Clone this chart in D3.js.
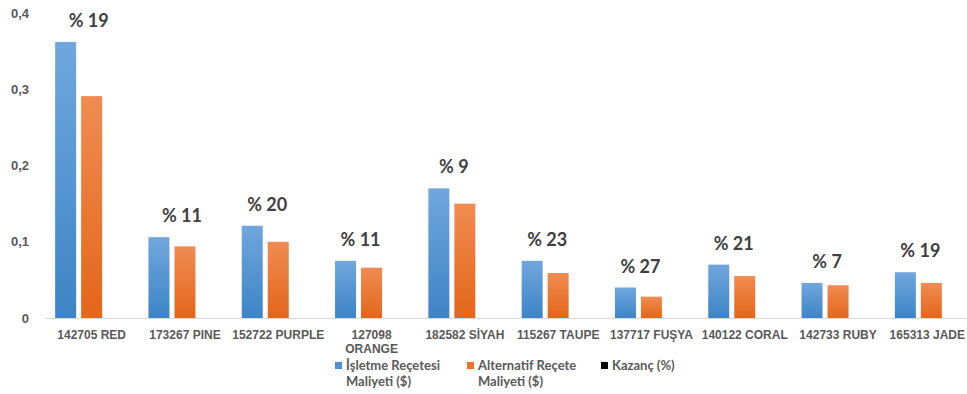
<!DOCTYPE html>
<html><head><meta charset="utf-8">
<script src="https://cdn.jsdelivr.net/npm/d3@7"></script>
<style>body{margin:0;background:#fff;}svg{display:block;font-family:Lato,"Open Sans",sans-serif;}</style>
</head><body><svg id="c" width="967" height="394"></svg>
<script>
const categories = ["142705 RED","173267 PINE","152722 PURPLE","127098 ORANGE","182582 SİYAH","115267 TAUPE","137717 FUŞYA","140122 CORAL","142733 RUBY","165313 JADE"];
const isletme = [0.362,0.106,0.121,0.075,0.170,0.075,0.040,0.070,0.046,0.060];
const alternatif = [0.291,0.094,0.100,0.066,0.150,0.059,0.028,0.055,0.043,0.046];
const kazanc = [19,11,20,11,9,23,27,21,7,19];
const yTicks = [0,0.1,0.2,0.3,0.4];
const seriesNames = ["İşletme Reçetesi Maliyeti ($)","Alternatif Reçete Maliyeti ($)","Kazanç (%)"];

const svg = d3.select("#c");
const defs = svg.append("defs");
function grad(id, top, bot){
  const g = defs.append("linearGradient").attr("id",id).attr("x1",0).attr("y1",0).attr("x2",0).attr("y2",1);
  g.append("stop").attr("offset","0%").attr("stop-color",top);
  g.append("stop").attr("offset","100%").attr("stop-color",bot);
}
grad("gb","#70a7dd","#3d84c6");
grad("go","#f08c52","#e3661a");

const x = d3.scaleBand().domain(categories).range([45, 978]);
const y = d3.scaleLinear().domain([0,0.4]).range([318,13]);
const barW = 21, gap = 5;
const groupW = 3*barW + 2*gap;
const x1 = d3.scaleBand().domain([0,1,2]).range([0, groupW]).paddingInner(gap/(barW+gap));

// y axis labels
const ya = svg.append("g").attr("transform","translate(29,0)")
  .call(d3.axisLeft(y).tickValues(yTicks).tickSize(0).tickPadding(0)
    .tickFormat(d => d===0 ? "0" : d3.format(".1f")(d).replace(".",",")));
ya.select(".domain").remove();
ya.selectAll("text").attr("fill","#595959").attr("font-size",13).attr("font-weight","bold");

// bars
const gCat = svg.append("g").selectAll("g").data(categories).join("g")
  .attr("transform", d => `translate(${x(d) + (x.bandwidth()-groupW)/2},0)`);
gCat.append("rect").attr("x", x1(0)).attr("width", barW)
  .attr("y",(d,i)=>y(isletme[i])).attr("height",(d,i)=>y(0)-y(isletme[i])).attr("fill","url(#gb)");
gCat.append("rect").attr("x", x1(1)).attr("width", barW)
  .attr("y",(d,i)=>y(alternatif[i])).attr("height",(d,i)=>y(0)-y(alternatif[i])).attr("fill","url(#go)");

// baseline
svg.append("line").attr("x1",45).attr("x2",967).attr("y1",y(0)+0.5).attr("y2",y(0)+0.5)
  .attr("stroke","#d9d9d9").attr("stroke-width",1);

// percent labels
gCat.append("text")
  .attr("x", (d,i)=> x1(0)+ (barW*2+gap)/2 + 2 + (i<2 ? 8 : 0))
  .attr("y",(d,i)=>y(Math.max(isletme[i],alternatif[i])) - 15)
  .attr("text-anchor","middle").attr("fill","#404040")
  .attr("font-size",18).attr("font-weight","bold")
  .text((d,i)=>"% " + kazanc[i]);

// x axis labels
const xa = svg.append("g").attr("transform",`translate(0,${y(0)})`)
  .call(d3.axisBottom(x).tickSize(0).tickPadding(12));
xa.select(".domain").remove();
xa.selectAll("text").attr("fill","#595959").attr("font-size",12).attr("font-weight","bold")
  .each(function(d,i){
    const parts = d === "127098 ORANGE" ? ["127098","ORANGE"] : [d];
    const t = d3.select(this); t.text(null);
    parts.forEach((p,k)=>t.append("tspan").attr("x",0).attr("dy", k===0 ? "0.71em" : "1.2em").text(p));
    if (i === categories.length-1) {
      const tx = x(d) + x.bandwidth()/2;
      t.attr("text-anchor","end").attr("x", 965 - tx);
      t.selectAll("tspan").attr("x", 965 - tx);
    }
  });

// legend
const legend = [
  {name: seriesNames[0], lines:["İşletme Reçetesi","Maliyeti ($)"], color:"#4a8fd2", x:335},
  {name: seriesNames[1], lines:["Alternatif Reçete","Maliyeti ($)"], color:"#ee7526", x:467},
  {name: seriesNames[2], lines:["Kazanç (%)"], color:"#000000", x:601}
];
const lg = svg.append("g").selectAll("g").data(legend).join("g")
  .attr("transform", d=>`translate(${d.x},0)`);
lg.append("rect").attr("x",0).attr("y",362).attr("width",7).attr("height",7).attr("fill",d=>d.color);
lg.append("text").attr("fill","#595959").attr("font-size",13).attr("font-weight","bold")
  .each(function(d){
    const t = d3.select(this);
    d.lines.forEach((p,k)=>t.append("tspan").attr("x",11).attr("y",370 + k*16).text(p));
  });
</script></body></html>
